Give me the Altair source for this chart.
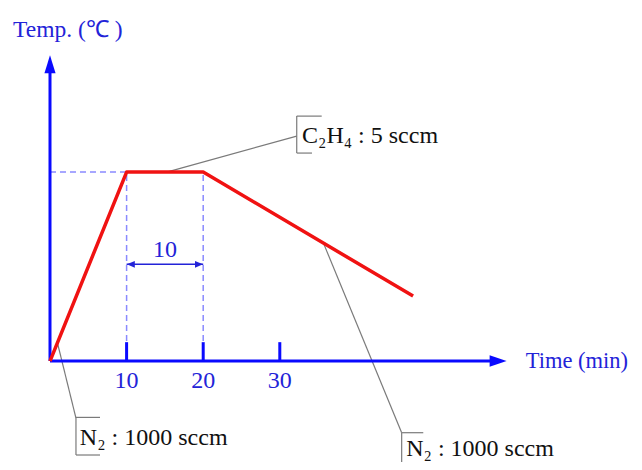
import altair as alt
import pandas as pd

# ---- data read from the schematic (time in min, temperature in relative units) ----
time_min = [0, 10, 20, 47.4]
temp_rel = [0, 100, 100, 34.4]

tick_times = [10, 20, 30]
tick_labels = ["10", "20", "30"]

plateau_start = 10
plateau_end = 20
plateau_temp = 100
span_label = "10"
span_level = 51.2
span_label_level = 58.6

x_axis_end = 58.5
y_axis_end = 157.0
tick_len = 10

x_title = "Time (min)"
y_title = "Temp. (\u2103 )"

callout_texts = ["C\u2082H\u2084 : 5 sccm", "N\u2082 : 1000 sccm", "N\u2082 : 1000 sccm"]
callout_text_t = [32.9, 3.9, 46.5]
callout_text_T = [119.0, -40.7, -46.3]
callout_from_t = [15.23, 0.98, 35.7]
callout_from_T = [100.0, 9.52, 62.4]
callout_to_t = [32.21, 3.39, 45.91]
callout_to_T = [119.0, -30.2, -37.9]
bracket_top = [129.6, -29.8, -37.9]
bracket_bottom = [110.05, -49.7, -60.0]
bracket_top_right = [35.47, 6.53, 48.73]
bracket_bottom_right = [34.2, 6.53, 45.91]

# ---- styling ----
X_DOM = [-5.483, 76.24]
Y_DOM = [-53.4, 186.8]
BLUE = "#0a0aff"
TEXT_BLUE = "#2323d8"
DASH = "#8a8aff"
RED = "#f01212"
GREY = "#7a7a7a"
FONT = "Liberation Serif"

xs = alt.Scale(domain=X_DOM, nice=False, zero=False)
ys = alt.Scale(domain=Y_DOM, nice=False, zero=False)


def X(f):
    return alt.X(f, type="quantitative", scale=xs, axis=None)


def Y(f):
    return alt.Y(f, type="quantitative", scale=ys, axis=None)


def rules(df, **kw):
    return alt.Chart(df).mark_rule(**kw).encode(
        x=X("t"), y=Y("T"), x2=alt.X2("t2"), y2=alt.Y2("T2")
    )


# dashed guide lines
dashed_df = pd.DataFrame({
    "t": [0, plateau_start, plateau_end],
    "T": [plateau_temp, 0, 0],
    "t2": [plateau_start, plateau_start, plateau_end],
    "T2": [plateau_temp, plateau_temp, plateau_temp],
})
dashed = rules(dashed_df, color=DASH, strokeWidth=1.5, strokeDash=[6, 4])

# axes lines
axes_df = pd.DataFrame({
    "t": [0, 0], "T": [0, 0],
    "t2": [x_axis_end, 0], "T2": [0, y_axis_end],
})
axes = rules(axes_df, color=BLUE, strokeWidth=3)

# ticks
ticks_df = pd.DataFrame({
    "t": tick_times, "T": [0] * len(tick_times),
    "t2": tick_times, "T2": [tick_len] * len(tick_times),
})
ticks = rules(ticks_df, color=BLUE, strokeWidth=3)

# arrowheads of axes
xhead = alt.Chart(pd.DataFrame({"t": [x_axis_end], "T": [0]})).mark_point(
    shape="M-1,-0.68L1,0L-1,0.68Z", size=289, filled=True, color=BLUE,
    opacity=1, strokeWidth=0
).encode(x=X("t"), y=Y("T"))
yhead = alt.Chart(pd.DataFrame({"t": [0], "T": [y_axis_end]})).mark_point(
    shape="M-0.62,1L0,-1L0.62,1Z", size=324, filled=True, color=BLUE,
    opacity=1, strokeWidth=0
).encode(x=X("t"), y=Y("T"))

# profile
profile = alt.Chart(pd.DataFrame({"t": time_min, "T": temp_rel, "o": range(len(time_min))})).mark_line(
    color=RED, strokeWidth=3.5, strokeJoin="round"
).encode(x=X("t"), y=Y("T"), order="o:O")

# span double arrow
span_df = pd.DataFrame({"t": [plateau_start], "T": [span_level], "t2": [plateau_end], "T2": [span_level]})
span = rules(span_df, color=TEXT_BLUE, strokeWidth=1.5)
span_head_l = alt.Chart(pd.DataFrame({"t": [plateau_start + 0.55], "T": [span_level]})).mark_point(
    shape="M1,-0.85L-1,0L1,0.85Z", size=64, filled=True, color=TEXT_BLUE, opacity=1, strokeWidth=0
).encode(x=X("t"), y=Y("T"))
span_head_r = alt.Chart(pd.DataFrame({"t": [plateau_end - 0.55], "T": [span_level]})).mark_point(
    shape="M-1,-0.85L1,0L-1,0.85Z", size=64, filled=True, color=TEXT_BLUE, opacity=1, strokeWidth=0
).encode(x=X("t"), y=Y("T"))
span_text = alt.Chart(pd.DataFrame({"t": [(plateau_start + plateau_end) / 2], "T": [span_label_level], "s": [span_label]})).mark_text(
    font=FONT, fontSize=24, color=TEXT_BLUE, align="center", baseline="middle"
).encode(x=X("t"), y=Y("T"), text="s:N")

# tick labels
tick_text = alt.Chart(pd.DataFrame({"t": tick_times, "T": [-10.3] * 3, "s": tick_labels})).mark_text(
    font=FONT, fontSize=24, color=TEXT_BLUE, align="center", baseline="middle"
).encode(x=X("t"), y=Y("T"), text="s:N")

# axis titles
y_title_mark = alt.Chart(pd.DataFrame({"t": [-4.83], "T": [175.1], "s": [y_title]})).mark_text(
    font=FONT, fontSize=23.5, color=TEXT_BLUE, align="left", baseline="middle"
).encode(x=X("t"), y=Y("T"), text="s:N")
x_title_mark = alt.Chart(pd.DataFrame({"t": [62.1], "T": [0.0], "s": [x_title]})).mark_text(
    font=FONT, fontSize=22.5, color=TEXT_BLUE, align="left", baseline="middle"
).encode(x=X("t"), y=Y("T"), text="s:N")

# callouts
call_df = pd.DataFrame({"t": callout_from_t, "T": callout_from_T, "t2": callout_to_t, "T2": callout_to_T})
calls = rules(call_df, color=GREY, strokeWidth=1.2)

br_left = pd.DataFrame({"t": callout_to_t, "T": bracket_top, "t2": callout_to_t, "T2": bracket_bottom})
br_top = pd.DataFrame({"t": callout_to_t, "T": bracket_top, "t2": bracket_top_right, "T2": bracket_top})
br_bot = pd.DataFrame({"t": callout_to_t, "T": bracket_bottom, "t2": bracket_bottom_right, "T2": bracket_bottom})
brackets = rules(pd.concat([br_left, br_top, br_bot], ignore_index=True), color=GREY, strokeWidth=1.2)

call_text = alt.Chart(pd.DataFrame({"t": callout_text_t, "T": callout_text_T, "s": callout_texts})).mark_text(
    font=FONT, fontSize=24, color="#111111", align="left", baseline="middle"
).encode(x=X("t"), y=Y("T"), text="s:N")

chart = alt.layer(
    dashed, calls, brackets, axes, ticks, xhead, yhead, profile,
    span, span_head_l, span_head_r, span_text, tick_text,
    y_title_mark, x_title_mark, call_text
).properties(
    width=626, height=454,
    autosize=alt.AutoSizeParams(type="none"),
    padding=0,
    background="white",
).configure_view(stroke=None)

chart.save("out.html", embed_options={"renderer": "svg", "actions": False})
